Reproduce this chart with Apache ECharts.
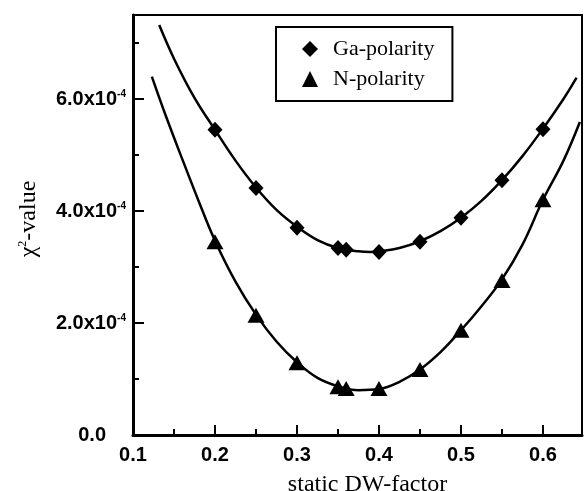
<!DOCTYPE html>
<html>
<head>
<meta charset="utf-8">
<script src="https://cdn.jsdelivr.net/npm/echarts@6/dist/echarts.min.js"></script>
<style>html,body{margin:0;padding:0;background:#fff;}#c{width:584px;height:491px;}</style>
</head>
<body>
<div id="c"></div>
<script>
// static DW-factor values of the measured points
const dwFactor = [0.2, 0.25, 0.3, 0.35, 0.36, 0.4, 0.45, 0.5, 0.55, 0.6];
// chi^2 values in units of 1e-4
const gaChi2 = [5.45, 4.41, 3.70, 3.34, 3.31, 3.27, 3.45, 3.88, 4.55, 5.46];
const nChi2  = [3.45, 2.14, 1.29, 0.86, 0.83, 0.83, 1.17, 1.87, 2.76, 4.20];
// fitted curves (x, chi^2 in 1e-4)
const gaFitX = [0.132, 0.15, 0.175, 0.2, 0.225, 0.25, 0.275, 0.3, 0.325, 0.35, 0.375, 0.39, 0.4, 0.425, 0.45, 0.475, 0.5, 0.525, 0.55, 0.575, 0.6, 0.625, 0.641];
const gaFitY = [7.32, 6.72, 6.02, 5.45, 4.90, 4.42, 4.02, 3.72, 3.48, 3.34, 3.28, 3.27, 3.28, 3.34, 3.46, 3.64, 3.88, 4.18, 4.55, 4.98, 5.47, 6.00, 6.38];
const nFitX = [0.123, 0.14, 0.16, 0.18, 0.2, 0.225, 0.25, 0.275, 0.3, 0.325, 0.35, 0.375, 0.4, 0.425, 0.45, 0.475, 0.5, 0.525, 0.55, 0.575, 0.6, 0.625, 0.645];
const nFitY = [6.40, 5.70, 4.93, 4.18, 3.47, 2.74, 2.15, 1.67, 1.30, 1.02, 0.87, 0.80, 0.82, 0.95, 1.17, 1.48, 1.87, 2.30, 2.78, 3.40, 4.20, 4.90, 5.59];
const xTicks = [0.1, 0.2, 0.3, 0.4, 0.5, 0.6];
const yTicks = [0, 2, 4, 6];
const seriesNames = ['Ga-polarity', 'N-polarity'];

const zip = (a, b) => a.map((v, i) => [v, b[i]]);
const sans = 'Liberation Sans, Arial, Helvetica, sans-serif';
const serif = 'Liberation Serif, Times New Roman, serif';
const xMin = 0.1, xMax = 0.6476, yMin = 0, yMax = 7.5;

const chart = echarts.init(document.getElementById('c'));
chart.setOption({
  animation: false,
  backgroundColor: '#fff',
  grid: { left: 133, right: 2, top: 15, bottom: 56, containLabel: false, outerBoundsMode: 'none',
    show: true, borderColor: '#000', borderWidth: 2, backgroundColor: 'transparent' },
  legend: {
    left: 276, top: 27, orient: 'vertical',
    borderColor: '#000', borderWidth: 2,
    padding: [11, 18, 11, 26], itemGap: 8, itemWidth: 16, itemHeight: 16,
    textStyle: { fontFamily: serif, fontSize: 22, color: '#000', padding: [0, 0, 0, 10] },
    data: [{ name: seriesNames[0], icon: 'diamond' }, { name: seriesNames[1], icon: 'triangle' }]
  },
  xAxis: [{
    type: 'value', min: xMin, max: xMax, interval: 0.1, position: 'bottom',
    name: 'static DW-factor', nameLocation: 'middle', nameGap: 38,
    nameTextStyle: { fontFamily: serif, fontSize: 24, color: '#000', padding: [0, 0, 0, 20] },
    axisLine: { lineStyle: { color: '#000', width: 3 } },
    axisTick: { inside: true, length: 10, lineStyle: { color: '#000', width: 2 } },
    axisLabel: {
      showMaxLabel: false, margin: 10, fontFamily: sans, fontWeight: 'bold', fontSize: 20, color: '#000',
      formatter: v => xTicks.some(t => Math.abs(t - v) < 1e-6) ? v.toFixed(1) : ''
    },
    splitLine: { show: false }
  }, {
    type: 'value', min: xMin, max: xMax, interval: 0.05, position: 'bottom',
    axisLine: { show: false },
    axisTick: { inside: true, length: 6, lineStyle: { color: '#000', width: 2 } },
    axisLabel: { show: false }, splitLine: { show: false }
  }],
  yAxis: [{
    type: 'value', min: yMin, max: yMax, interval: 2, position: 'left',
    name: '{n|χ}{s|2}{n|-value}', nameLocation: 'middle', nameGap: 92, nameRotate: 90,
    nameTextStyle: {
      padding: [0, 0, 0, 12],
      rich: {
        n: { fontFamily: serif, fontSize: 24, color: '#000' },
        s: { fontFamily: serif, fontSize: 12, color: '#000', verticalAlign: 'top' }
      }
    },
    axisLine: { lineStyle: { color: '#000', width: 3 } },
    axisTick: { inside: true, length: 11, lineStyle: { color: '#000', width: 2 } },
    axisLabel: {
      showMaxLabel: false, margin: 7,
      formatter: v => {
        if (!yTicks.some(t => Math.abs(t - v) < 1e-6)) return '';
        if (v === 0) return '{m|0.0}{p|}';
        return '{m|' + v.toFixed(1) + 'x10}{s|-4}';
      },
      rich: {
        m: { fontFamily: sans, fontWeight: 'bold', fontSize: 20, color: '#000' },
        p: { width: 20 },
        s: { fontFamily: sans, fontWeight: 'bold', fontSize: 10, color: '#000', verticalAlign: 'top' }
      }
    },
    splitLine: { show: false }
  }, {
    type: 'value', min: yMin, max: yMax, interval: 1, position: 'left',
    axisLine: { show: false },
    axisTick: { inside: true, length: 6, lineStyle: { color: '#000', width: 2 } },
    axisLabel: { show: false }, splitLine: { show: false }
  }],
  series: [
    { name: 'Ga-fit', type: 'line', smooth: 0.4, showSymbol: false, symbol: 'none', data: zip(gaFitX, gaFitY),
      lineStyle: { color: '#000', width: 2.5 }, z: 2 },
    { name: 'N-fit', type: 'line', smooth: 0.4, showSymbol: false, symbol: 'none', data: zip(nFitX, nFitY),
      lineStyle: { color: '#000', width: 2.5 }, z: 2 },
    { name: seriesNames[0], type: 'scatter', symbol: 'diamond', symbolSize: [15, 16], data: zip(dwFactor, gaChi2),
      itemStyle: { color: '#000', opacity: 1 }, z: 3 },
    { name: seriesNames[1], type: 'scatter', symbol: 'triangle', symbolSize: [17, 15], data: zip(dwFactor, nChi2),
      itemStyle: { color: '#000', opacity: 1 }, z: 3 }
  ]
});
</script>
</body>
</html>
